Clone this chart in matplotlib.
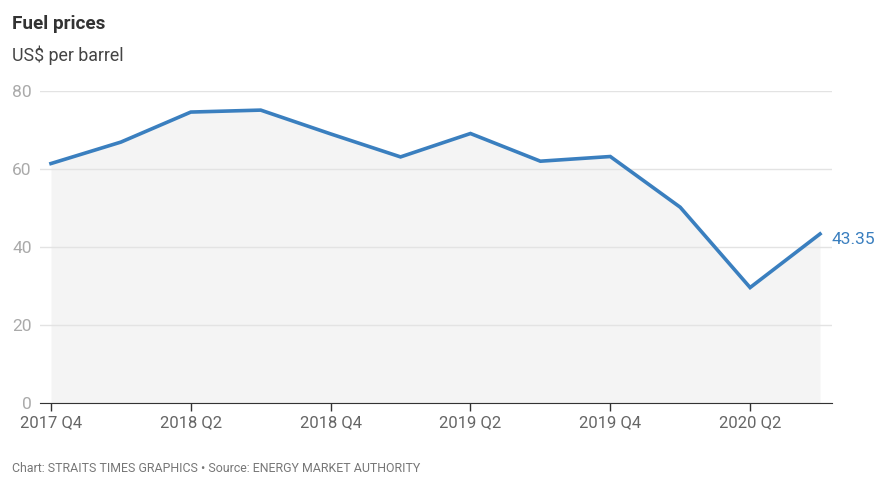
import matplotlib.pyplot as plt
import numpy as np

plt.rcParams["font.family"] = ["Roboto", "DejaVu Sans"]

quarters = ["2017 Q4", "2018 Q1", "2018 Q2", "2018 Q3", "2018 Q4", "2019 Q1",
            "2019 Q2", "2019 Q3", "2019 Q4", "2020 Q1", "2020 Q2", "2020 Q3"]
prices = [61.4, 66.9, 74.6, 75.1, 69.0, 63.1, 69.1, 62.0, 63.2, 50.2, 29.6, 43.35]
y_ticks = [0, 20, 40, 60, 80]

line_color = "#3a7fbf"

fig = plt.figure(figsize=(8.93, 4.93), dpi=100)
ax = fig.add_axes([40 / 893, 90 / 493, 792 / 893, 312 / 493])

x = np.arange(len(quarters))
ax.fill_between(x, prices, 0, color="#f4f4f4", linewidth=0, zorder=1)
ax.plot(x, prices, color=line_color, linewidth=2.6, zorder=3,
        solid_joinstyle="miter")

ax.set_xlim(-11 / 70, len(quarters) - 1 + 12 / 70)
ax.set_ylim(0, 80)

ax.set_yticks(y_ticks)
ax.set_yticklabels([str(v) for v in y_ticks])
ax.tick_params(axis="y", length=0, pad=6, labelsize=12.5, labelcolor="#aaaaaa")
ax.grid(axis="y", color="#e3e3e3", linewidth=1, zorder=0)

ax.set_xticks(x[::2])
ax.set_xticklabels(quarters[::2])
ax.tick_params(axis="x", length=6, width=1, color="#333333", pad=3,
               labelsize=12, labelcolor="#666666")

for side in ["top", "right", "left"]:
    ax.spines[side].set_visible(False)
ax.spines["bottom"].set_color("#333333")
ax.spines["bottom"].set_zorder(4)

ax.annotate(f"{prices[-1]:.2f}", xy=(x[-1], prices[-1]), xytext=(8.5, -4),
            textcoords="offset points", color=line_color, fontsize=12.5,
            va="center", ha="left")

fig.text(12 / 893, 1 - 24 / 493, "Fuel prices", fontsize=13.6, fontweight="bold",
         color="#333333", va="center")
fig.text(12 / 893, 1 - 55 / 493, "US$ per barrel", fontsize=12.8, color="#444444",
         va="center")
fig.text(12 / 893, 1 - 469 / 493,
         "Chart: STRAITS TIMES GRAPHICS \u2022 Source: ENERGY MARKET AUTHORITY",
         fontsize=8.9, color="#777777", va="center")

fig.savefig("out.png", dpi=100)
